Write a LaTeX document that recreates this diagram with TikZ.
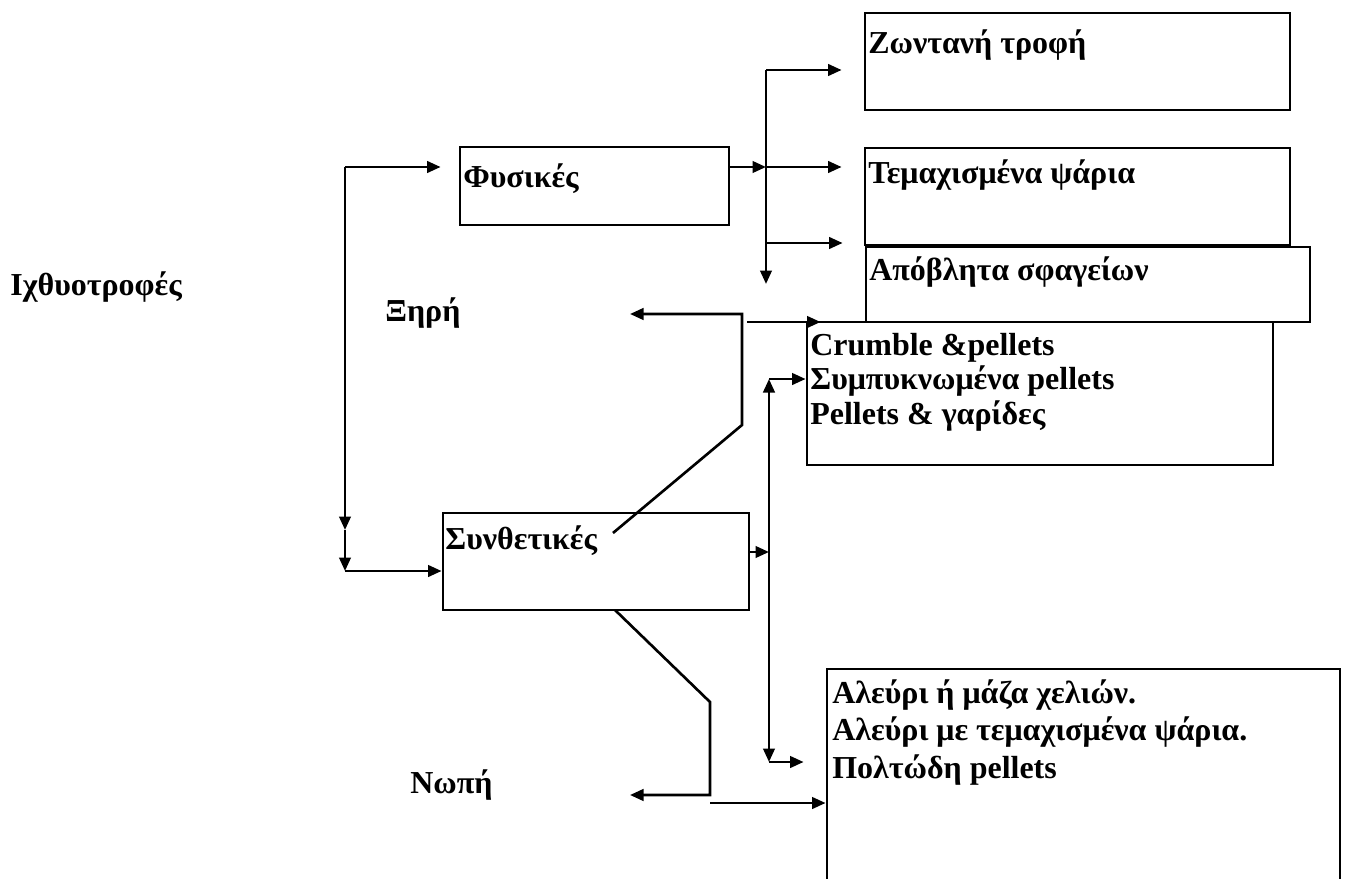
\documentclass[tikz,border=0pt]{standalone}
\usepackage{fontspec}
\setmainfont{Liberation Serif}
\usepackage{tikz}
\usetikzlibrary{fit,calc,arrows.meta}
\tikzset{
  semithick,
  box/.style = {draw, rectangle, inner sep=0pt, line width=1.6pt},
  lbl/.style = {anchor=base west, inner sep=0pt, align=left,
   font=\bfseries\fontsize{18.2}{19.6}\selectfont},
  arr/.style = {line width=1.5pt, -{Triangle[length=0.27cm, width=0.23cm]}},
  ln/.style = {line width=1.5pt},
}

\begin{document}
\begin{tikzpicture}[x=0.02cm, y=-0.02cm]
  \useasboundingbox (0,0) rectangle (1357,879);
  % boxes
  \node (fys) [box, fit={(460,147) (729,225)}] {};
  \node (syn) [box, fit={(443,513) (749,610)}] {};
  \node (zon) [box, fit={(865,13) (1290,110)}] {};
  \node (tem) [box, fit={(865,148) (1290,245)}] {};
  \node (apo) [box, fit={(866,247) (1310,322)}] {};
  \node (dry) [box, fit={(807,322) (1273,465)}] {};
  \node (wet) [box, fit={(827,669) (1340,895)}] {};
  % texts
  \node (fish) [lbl] at (10,295) {Ιχθυοτροφές};
  \node (xiri) [lbl] at (385,321) {Ξηρή};
  \node (nopi) [lbl] at (410,793) {Νωπή};
  \node (fysT) [lbl] at (463,187) {Φυσικές};
  \node (synT) [lbl] at (445,549) {Συνθετικές};
  \node (zonT) [lbl] at (868,53) {Ζωντανή τροφή};
  \node (temT) [lbl] at (868,183) {Τεμαχισμένα ψάρια};
  \node (apoT) [lbl] at (869,280) {Απόβλητα σφαγείων};
  % multi-line texts sit on their last baseline
  \node (dryT) [lbl, font=\bfseries\fontsize{18.2}{19.6}\selectfont] at (810,424)
    {Crumble \&pellets\\Συμπυκνωμένα pellets\\Pellets \& γαρίδες};
  \node (wetT) [lbl, font=\bfseries\fontsize{18.2}{21.3}\selectfont] at (832,778)
    {Αλεύρι ή μάζα χελιών.\\Αλεύρι με τεμαχισμένα ψάρια.\\Πολτώδη pellets};
  % left bus
  \coordinate (lt) at (345,167);
  \coordinate (lm) at (345,530);
  \coordinate (lb) at (345,571);
  \draw[arr] (lt) -- (lm);
  \draw[arr] (lm) -- (lb);
  \draw[arr, shorten >=0.36cm] (lt) -- (lt -| fys.west);
  \draw[arr] (lb) -- (lb -| syn.west);
  % natural feeds
  \coordinate (b1t) at (766,70);
  \coordinate (b1b) at (766,284);
  \coordinate (b1c) at (766,243);
  \draw[arr] (b1t) -- (b1b);
  \draw[arr] (fys.east |- lt) -- (b1t |- lt);
  \draw[arr, shorten >=0.44cm] (b1t) -- (b1t -| zon.west);
  \draw[arr, shorten >=0.44cm] (b1t |- lt) -- (lt -| tem.west);
  \draw[arr, shorten >=0.44cm] (b1c) -- (b1c -| apo.west);
  % dry
  \coordinate (sk) at (613,533);
  \coordinate (dk) at (742,425);
  \coordinate (dt) at (742,314);
  \coordinate (de) at (630,314);
  \draw[arr] (sk) -- (dk) -- (dt) -- (de);
  \coordinate (dx) at (747,322);
  \draw[arr, shorten >=-0.3cm] (dx) -- (dx -| dry.west);
  % second bus
  \coordinate (b2t) at (769,379);
  \coordinate (b2b) at (769,762);
  \coordinate (b2s) at (769,552);
  \draw[line width=1.5pt, {Triangle[length=0.27cm, width=0.23cm]}-{Triangle[length=0.27cm, width=0.23cm]}] (b2t) -- (b2b);
  \draw[arr] (b2t) -- (b2t -| dry.west);
  \draw[arr, shorten >=0.44cm] (b2b) -- (b2b -| wet.west);
  \draw[arr] (syn.east |- b2s) -- (b2s);
  % wet
  \coordinate (ws) at (615,610);
  \coordinate (wk) at (710,702);
  \coordinate (wb) at (710,795);
  \coordinate (we) at (630,795);
  \coordinate (wx) at (710,803);
  \draw[arr] (ws) -- (wk) -- (wb) -- (we);
  \draw[arr] (wx) -- (wx -| wet.west);
\end{tikzpicture}
\end{document}
